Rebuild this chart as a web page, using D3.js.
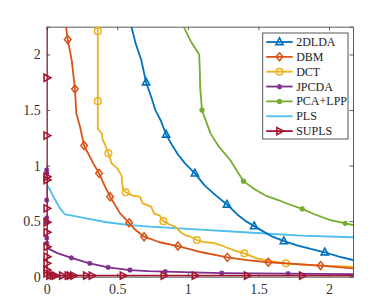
<!DOCTYPE html>
<html><head><meta charset="utf-8">
<script src="https://cdn.jsdelivr.net/npm/d3@7"></script>
<style>body{margin:0;background:#fff}svg{display:block}</style>
</head><body><div id="chart"></div>
<script>
const xTicks=[0,0.5,1,1.5,2];
const yTicks=[0,0.5,1,1.5,2];
const xDomain=[0,2.17];
const yDomain=[0,2.25];
const seriesNames=["2DLDA","DBM","DCT","JPCDA","PCA+LPP","PLS","SUPLS"];

const lda2dLine=[[0.6,2.25],[0.63,2.1],[0.67,1.95],[0.704,1.75],[0.74,1.62],[0.77,1.5],[0.81,1.4],[0.846,1.28],[0.89,1.18],[0.93,1.1],[0.98,1.02],[1.05,0.93],[1.12,0.82],[1.2,0.73],[1.277,0.65],[1.35,0.56],[1.41,0.5],[1.47,0.455],[1.53,0.41],[1.6,0.36],[1.68,0.32],[1.78,0.28],[1.87,0.25],[1.97,0.22],[2.07,0.18],[2.17,0.15]];
const lda2dMarks=[[0.704,1.75],[0.846,1.28],[1.05,0.93],[1.277,0.65],[1.47,0.455],[1.68,0.32],[1.97,0.22]];

const dbmLine=[[0.137,2.25],[0.149,2.135],[0.177,1.95],[0.2,1.69],[0.21,1.47],[0.236,1.35],[0.265,1.18],[0.33,1.02],[0.371,0.93],[0.41,0.82],[0.449,0.72],[0.52,0.57],[0.584,0.485],[0.63,0.42],[0.69,0.36],[0.8,0.31],[0.93,0.276],[1.1,0.22],[1.28,0.174],[1.42,0.15],[1.57,0.13],[1.75,0.115],[1.94,0.1],[2.17,0.075]];
const dbmMarks=[[0.149,2.135],[0.2,1.69],[0.265,1.18],[0.371,0.93],[0.449,0.72],[0.584,0.485],[0.69,0.36],[0.93,0.276],[1.28,0.174],[1.57,0.13],[1.94,0.1]];

const dctLine=[[0.362,2.25],[0.362,1.58],[0.362,1.33],[0.39,1.29],[0.397,1.23],[0.41,1.2],[0.437,1.11],[0.46,1.02],[0.5,0.975],[0.53,0.91],[0.54,0.79],[0.56,0.76],[0.61,0.73],[0.66,0.72],[0.68,0.66],[0.74,0.63],[0.76,0.57],[0.8,0.55],[0.827,0.5],[0.87,0.47],[0.91,0.45],[0.95,0.4],[0.98,0.375],[1.02,0.36],[1.064,0.33],[1.12,0.31],[1.18,0.305],[1.23,0.285],[1.32,0.24],[1.4,0.21],[1.49,0.165],[1.61,0.135],[1.695,0.12],[1.8,0.11],[1.94,0.1],[2.17,0.09]];
const dctMarks=[[0.362,2.21],[0.362,1.58],[0.437,1.11],[0.56,0.76],[0.827,0.5],[1.064,0.33],[1.4,0.21],[1.695,0.12]];

const jpcdaLine=[[0,1.0],[0,0.28],[0.01,0.255],[0.04,0.235],[0.08,0.21],[0.175,0.17],[0.305,0.12],[0.435,0.084],[0.59,0.06],[0.72,0.05],[0.84,0.045],[1.24,0.032],[1.71,0.027],[2.17,0.024]];
const jpcdaMarks=[[0,0.96],[0,0.93],[0,0.69],[0,0.53],[0,0.49],[0,0.35],[0,0.3],[0.175,0.17],[0.305,0.12],[0.435,0.084],[0.59,0.06],[0.84,0.045],[1.24,0.032],[1.71,0.027]];

const pcaLppLine=[[0.97,2.25],[1.02,2.12],[1.08,2.0],[1.085,1.85],[1.087,1.71],[1.1,1.5],[1.16,1.29],[1.22,1.17],[1.3,1.05],[1.35,0.95],[1.394,0.86],[1.47,0.79],[1.55,0.73],[1.64,0.69],[1.72,0.65],[1.81,0.61],[1.9,0.56],[2.01,0.51],[2.115,0.48],[2.17,0.465]];
const pcaLppMarks=[[1.1,1.5],[1.394,0.86],[1.81,0.61],[2.115,0.48]];

const plsLine=[[0,0.824],[0.02,0.79],[0.047,0.72],[0.07,0.67],[0.094,0.615],[0.13,0.56],[0.2,0.545],[0.26,0.53],[0.425,0.49],[0.59,0.465],[0.73,0.45],[1.0,0.43],[1.4,0.4],[1.8,0.37],[2.17,0.355]];

const suplsLine=[[0,2.25],[0,0.01],[2.17,0.01]];
const suplsMarks=[[0,1.79],[0,1.27],[0,0.9],[0,0.87],[0,0.615],[0,0.49],[0,0.4],[0,0.27],[0,0.18],[0,0.12],[0,0.06],[0,0.03],[0.02,0.01],[0.045,0.01],[0.06,0.01],[0.11,0.01],[0.15,0.01],[0.165,0.01],[0.19,0.01],[0.28,0.01],[0.32,0.01],[0.54,0.01],[0.83,0.01],[1.05,0.01],[1.42,0.01],[1.81,0.01]];

const colors=["#0072BD","#D95319","#EDB120","#7E2F8E","#77AC30","#4DBEEE","#A2142F"];
const shapes=["triangle","diamond","circle","star","dot","none","right"];

const series=[
 {name:seriesNames[0],line:lda2dLine,marks:lda2dMarks},
 {name:seriesNames[1],line:dbmLine,marks:dbmMarks},
 {name:seriesNames[2],line:dctLine,marks:dctMarks},
 {name:seriesNames[3],line:jpcdaLine,marks:jpcdaMarks},
 {name:seriesNames[4],line:pcaLppLine,marks:pcaLppMarks},
 {name:seriesNames[5],line:plsLine,marks:[]},
 {name:seriesNames[6],line:suplsLine,marks:suplsMarks}
].map((s,i)=>({...s,color:colors[i],shape:shapes[i]}));

const W=386,H=307;
const m={l:46.7,t:26.7,r:33,b:30.3};
const x=d3.scaleLinear().domain(xDomain).range([m.l,W-m.r]);
const y=d3.scaleLinear().domain(yDomain).range([H-m.b,m.t]);

const svg=d3.select("#chart").append("svg").attr("width",W).attr("height",H);
svg.append("defs").append("clipPath").attr("id","clip").append("rect")
 .attr("x",m.l).attr("y",m.t).attr("width",W-m.l-m.r).attr("height",H-m.t-m.b);

const axisColor="#5a5a5a";
const tl=-3.5;
const fnt="Liberation Serif";
svg.append("g").attr("transform",`translate(0,${H-m.b})`)
 .call(d3.axisBottom(x).tickValues(xTicks).tickSize(tl).tickPadding(7).tickFormat(d3.format("")));
svg.append("g").attr("transform",`translate(0,${m.t})`)
 .call(d3.axisTop(x).tickValues(xTicks).tickSize(tl).tickFormat(""));
svg.append("g").attr("transform",`translate(${m.l},0)`)
 .call(d3.axisLeft(y).tickValues(yTicks).tickSize(tl).tickPadding(6).tickFormat(d3.format("")));
svg.append("g").attr("transform",`translate(${W-m.r},0)`)
 .call(d3.axisRight(y).tickValues(yTicks).tickSize(tl).tickFormat(""));
svg.selectAll("g").attr("font-family",fnt);
svg.selectAll(".domain").attr("stroke",axisColor).attr("stroke-width",1);
svg.selectAll(".tick line").attr("stroke",axisColor);
svg.selectAll(".tick text").attr("font-family",fnt).attr("font-size",14).attr("fill","#333");

const line=d3.line().x(d=>x(d[0])).y(d=>y(d[1]));

function drawMarker(g,shape,color,cx,cy){
  const s=3.6;
  if(shape==="triangle"){
    g.append("path").attr("d",`M${cx},${cy-s-0.5}L${cx+s},${cy+s-1}L${cx-s},${cy+s-1}Z`).attr("fill","none").attr("stroke",color).attr("stroke-width",1.6);
  }else if(shape==="diamond"){
    g.append("path").attr("d",`M${cx},${cy-4}L${cx+3.3},${cy}L${cx},${cy+4}L${cx-3.3},${cy}Z`).attr("fill","none").attr("stroke",color).attr("stroke-width",1.5);
  }else if(shape==="circle"){
    g.append("circle").attr("cx",cx).attr("cy",cy).attr("r",3.3).attr("fill","none").attr("stroke",color).attr("stroke-width",1.5);
  }else if(shape==="dot"){
    g.append("circle").attr("cx",cx).attr("cy",cy).attr("r",2.6).attr("fill",color);
  }else if(shape==="star"){
    const r=2.6;
    g.append("path").attr("d",`M${cx-r},${cy}L${cx+r},${cy}M${cx},${cy-r}L${cx},${cy+r}M${cx-r*0.75},${cy-r*0.75}L${cx+r*0.75},${cy+r*0.75}M${cx-r*0.75},${cy+r*0.75}L${cx+r*0.75},${cy-r*0.75}`).attr("stroke",color).attr("stroke-width",1.3);
  }else if(shape==="right"){
    g.append("path").attr("d",`M${cx+s+0.5},${cy}L${cx-s+1},${cy-s}L${cx-s+1},${cy+s}Z`).attr("fill","none").attr("stroke",color).attr("stroke-width",1.6);
  }
}

const order=[5,4,0,2,1,3,6];
order.forEach(i=>{
  const s=series[i];
  svg.append("path").datum(s.line).attr("d",line).attr("fill","none")
   .attr("stroke",s.color).attr("stroke-width",1.8).attr("stroke-linejoin","round").attr("clip-path","url(#clip)");
  const g=svg.append("g");
  s.marks.forEach(p=>drawMarker(g,s.shape,s.color,x(p[0]),y(p[1])));
});

// legend
const lg=svg.append("g");
const lx=262.7,ly=33,lw=85.3,lh=106;
lg.append("rect").attr("x",lx).attr("y",ly).attr("width",lw).attr("height",lh).attr("fill","#fff").attr("stroke","#444").attr("stroke-width",0.9);
const rowH=14.85;
series.forEach((s,i)=>{
  const cy=ly+9+i*rowH;
  lg.append("line").attr("x1",lx+3.5).attr("x2",lx+30).attr("y1",cy).attr("y2",cy).attr("stroke",s.color).attr("stroke-width",1.8);
  if(s.shape!=="none") drawMarker(lg,s.shape,s.color,lx+16.8,cy);
  lg.append("text").attr("x",lx+33.5).attr("y",cy+4).attr("font-family",fnt).attr("font-size",12).attr("fill","#222").text(s.name);
});
</script></body></html>
